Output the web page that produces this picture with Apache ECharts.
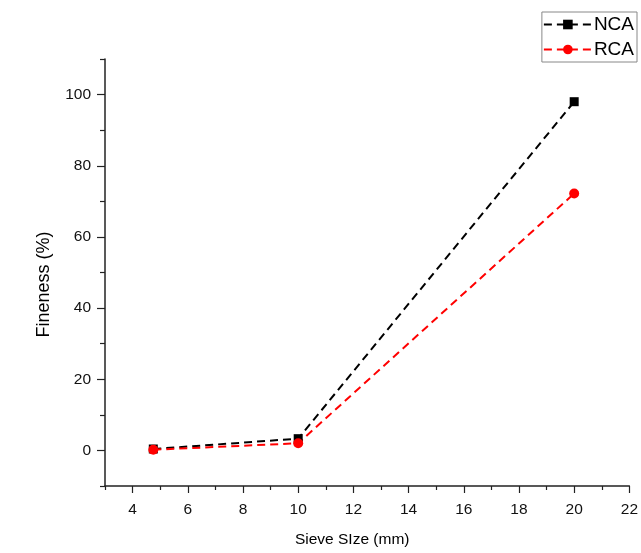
<!DOCTYPE html>
<html>
<head>
<meta charset="utf-8">
<script src="https://cdn.jsdelivr.net/npm/echarts@6/dist/echarts.min.js"></script>
<style>
  html, body { margin: 0; padding: 0; background: #fff; }
  #chart { width: 641px; height: 553px; }
</style>
</head>
<body>
<div id="chart"></div>
<script>
// sieve sizes (mm) and fineness (%)
const sieveSizes = [4.75, 10, 20];
const ncaValues = [0.4, 3.3, 98.0];
const rcaValues = [0.2, 2.0, 72.2];

const yMajor = [0, 20, 40, 60, 80, 100];
const yMinor = [-10, 10, 30, 50, 70, 90, 110];
const xMajor = [4, 6, 8, 10, 12, 14, 16, 18, 20, 22];
const xMinor = [3, 5, 7, 9, 11, 13, 15, 17, 19, 21];

const font = 'Liberation Sans, Arial, sans-serif';
const axisColor = '#222';

function pairs(xs, ys) {
  return xs.map((x, i) => [x, ys[i]]);
}

const chart = echarts.init(document.getElementById('chart'));

chart.setOption({
  animation: false,
  backgroundColor: '#fff',
  grid: { left: 105, right: 9, top: 59, bottom: 64 },
  legend: {
    orient: 'vertical',
    right: 4,
    top: 12,
    itemWidth: 48,
    itemHeight: 12,
    itemGap: 6,
    padding: [3, 3, 3, 1],
    borderColor: '#888',
    borderWidth: 1,
    backgroundColor: '#fff',
    textStyle: { fontFamily: font, fontSize: 19, color: '#000', padding: [0, 0, 0, -3] },
    data: ['NCA', 'RCA']
  },
  xAxis: [
    {
      type: 'value',
      min: 3,
      max: 22,
      name: 'Sieve SIze (mm)',
      nameLocation: 'middle',
      nameGap: 46,
      nameTextStyle: { fontFamily: font, fontSize: 15.5, color: '#000', padding: [0, 30, 0, 0] },
      axisLine: { show: true, onZero: false, lineStyle: { color: axisColor, width: 1.5 } },
      axisTick: { show: true, length: 7, customValues: xMajor, lineStyle: { color: axisColor, width: 1.2 } },
      axisLabel: { customValues: xMajor, margin: 16, fontFamily: font, fontSize: 15.5, color: '#111' },
      splitLine: { show: false }
    },
    {
      type: 'value',
      min: 3,
      max: 22,
      position: 'bottom',
      axisLine: { show: false, onZero: false },
      axisTick: { show: true, length: 4, customValues: xMinor, lineStyle: { color: axisColor, width: 1.2 } },
      axisLabel: { show: false },
      splitLine: { show: false }
    }
  ],
  yAxis: [
    {
      type: 'value',
      min: -10,
      max: 110,
      name: 'Fineness (%)',
      nameLocation: 'middle',
      nameGap: 52,
      nameTextStyle: { fontFamily: font, fontSize: 18, color: '#000', padding: [0, 24, 0, 0] },
      axisLine: { show: true, onZero: false, lineStyle: { color: axisColor, width: 1.5 } },
      axisTick: { show: true, length: 8, customValues: yMajor, lineStyle: { color: axisColor, width: 1.2 } },
      axisLabel: { customValues: yMajor, margin: 14, fontFamily: font, fontSize: 15.5, color: '#111' },
      splitLine: { show: false }
    },
    {
      type: 'value',
      min: -10,
      max: 110,
      position: 'left',
      axisLine: { show: false, onZero: false },
      axisTick: { show: true, length: 5, customValues: yMinor, lineStyle: { color: axisColor, width: 1.2 } },
      axisLabel: { show: false },
      splitLine: { show: false }
    }
  ],
  series: [
    {
      name: 'NCA',
      type: 'line',
      data: pairs(sieveSizes, ncaValues),
      symbol: 'rect',
      symbolSize: 9,
      itemStyle: { color: '#000' },
      lineStyle: { color: '#000', width: 2, type: [8, 5] }
    },
    {
      name: 'RCA',
      type: 'line',
      data: pairs(sieveSizes, rcaValues),
      symbol: 'circle',
      symbolSize: 10,
      itemStyle: { color: '#ff0000' },
      lineStyle: { color: '#ff0000', width: 2, type: [8, 5] }
    }
  ]
});

window.addEventListener('resize', () => chart.resize());
</script>
</body>
</html>
